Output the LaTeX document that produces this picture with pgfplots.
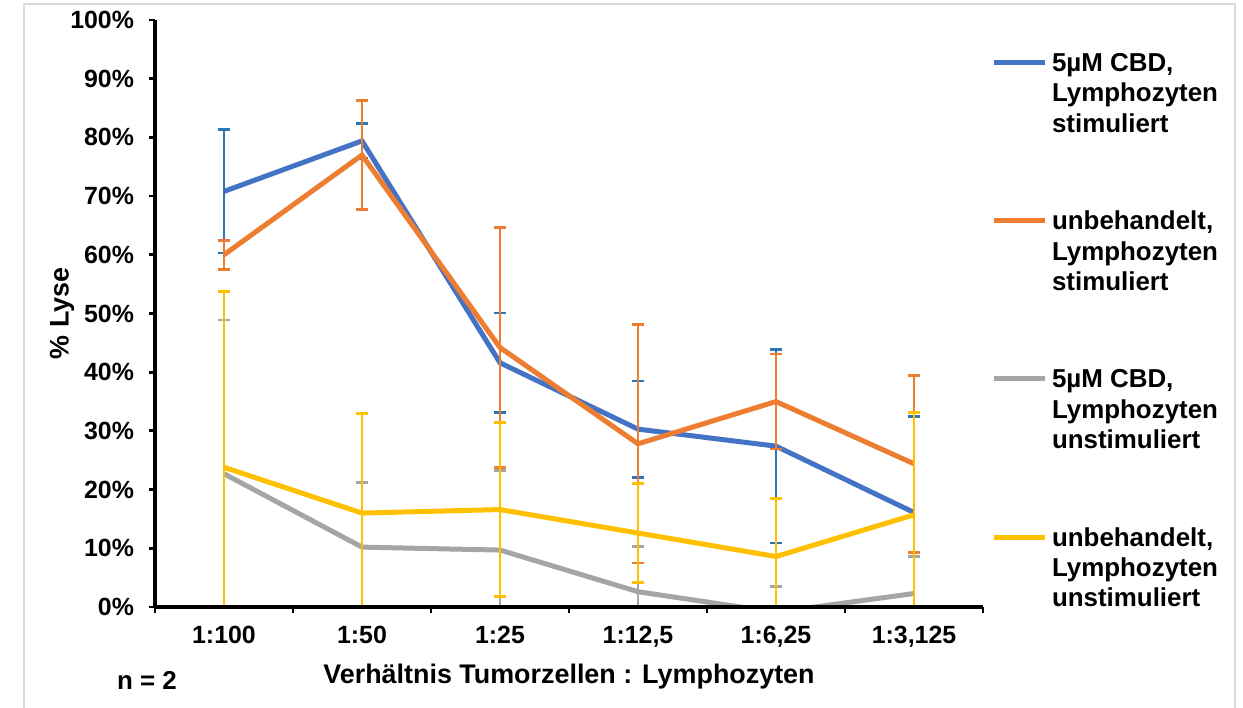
\documentclass[border=0pt]{standalone}
\usepackage{pgfplots}
\pgfplotsset{compat=1.18}
\usepackage{pgfplotstable}
\usepackage{fontspec}
\setmainfont{Liberation Sans}
\definecolor{cblue}{RGB}{68,114,196}
\definecolor{cblueE}{RGB}{46,117,182}
\definecolor{corange}{RGB}{237,125,49}
\definecolor{cgray}{RGB}{165,165,165}
\definecolor{cyellow}{RGB}{255,192,0}
\pgfplotstableread{
x blue bluee orange orangee gray graye yellow yellowe
0 70.8 10.5 60.0 2.5 22.7 26.2 23.8 30.0
1 79.4 3.0 77.0 9.3 10.2 11.0 16.0 17.0
2 41.6 8.5 44.2 20.4 9.7 13.6 16.6 14.8
3 30.3 8.2 27.8 20.3 2.6 7.7 12.6 8.4
4 27.4 16.5 35.0 8.1 -0.9 4.4 8.6 9.9
5 16.1 16.4 24.4 15.1 2.3 6.3 15.7 17.5
}\data
\newcommand{\entry}[3]{\addlegendentry{\begin{tabular}[t]{@{}l@{}}#1\\#2\\#3\end{tabular}}}
\begin{document}
\begin{tikzpicture}
\useasboundingbox (-77.5bp,-50.5bp) rectangle (544bp,303.5bp);
\draw[black!15, line width=0.6bp] (-65.5bp,-52bp) |- (540bp,301.5bp) -- (540bp,-52bp);
\begin{axis}[
  at={(0,0)}, anchor=south west,
  scale only axis, width=414bp, height=293.5bp,
  xmin=-0.5, xmax=5.5, ymin=0, ymax=100,
  axis x line*=bottom, axis y line*=left,
  axis line style={line width=1.7bp, -},
  axis on top,
  tick align=outside,
  major tick length=3bp,
  tick style={line width=1.4bp, black},
  ytick={0,10,...,100},
  yticklabel={\pgfmathprintnumber{\tick}\%},
  /pgf/number format/assume math mode=true,
  xtick={-0.5,0.5,...,5.5}, xticklabels={},
  extra x ticks={0,1,2,3,4,5},
  extra x tick labels={1:100,1:50,1:25,{1:12,5},{1:6,25},{1:3,125}},
  extra x tick style={major tick length=0pt, tick style={draw=none}},
  ticklabel style={font=\fontsize{12.5}{15}\selectfont\bfseries},
  xticklabel style={yshift=-6bp},
  yticklabel style={xshift=-4bp},
  ylabel={\% Lyse},
  xlabel={Verhältnis Tumorzellen : Lymphozyten},
  label style={font=\fontsize{13.5}{16}\selectfont\bfseries},
  ylabel style={at={(axis description cs:-0.1123,0.5)}, anchor=center},
  xlabel style={at={(axis description cs:0.5,0)}, anchor=center, yshift=-35bp},
  legend style={draw=none, fill=none, inner sep=0pt, outer sep=0pt,
    at={(axis description cs:1.0097,0.9486)}, anchor=north west,
    font=\fontsize{13}{15.25}\selectfont\bfseries,
    column sep=2.5bp, row sep=67bp,
    nodes={inner sep=0pt},
    cells={anchor=base west}},
  legend image code/.code={\draw[#1] (0bp,0bp) -- (25.5bp,0bp);},
  legend image post style={yshift=4.5bp},
  every axis plot/.append style={line width=2.5bp, mark=none},
  error bars/y dir=both, error bars/y explicit,
]
\addplot[cblue, error bars/error bar style={line width=1.4bp, cblueE},
  error bars/error mark options={rotate=90, mark size=3bp, line width=1.4bp, cblueE}]
  table[x=x, y=blue, y error=bluee]{\data};
\entry{5µM CBD,}{Lymphozyten}{stimuliert}
\addplot[corange, error bars/error bar style={line width=1.4bp, corange},
  error bars/error mark options={rotate=90, mark size=3bp, line width=1.4bp, corange}]
  table[x=x, y=orange, y error=orangee]{\data};
\entry{unbehandelt,}{Lymphozyten}{stimuliert}
\addplot[cgray, error bars/error bar style={line width=1.4bp, cgray},
  error bars/error mark options={rotate=90, mark size=3bp, line width=1.4bp, cgray}]
  table[x=x, y=gray, y error=graye]{\data};
\entry{5µM CBD,}{Lymphozyten}{unstimuliert}
\addplot[cyellow, error bars/error bar style={line width=1.4bp, cyellow},
  error bars/error mark options={rotate=90, mark size=3bp, line width=1.4bp, cyellow}]
  table[x=x, y=yellow, y error=yellowe]{\data};
\entry{unbehandelt,}{Lymphozyten}{unstimuliert}
\end{axis}
\node[font=\fontsize{13}{15}\selectfont\bfseries, anchor=center] at (-4bp,-36.5bp) {n = 2};
\end{tikzpicture}
\end{document}
